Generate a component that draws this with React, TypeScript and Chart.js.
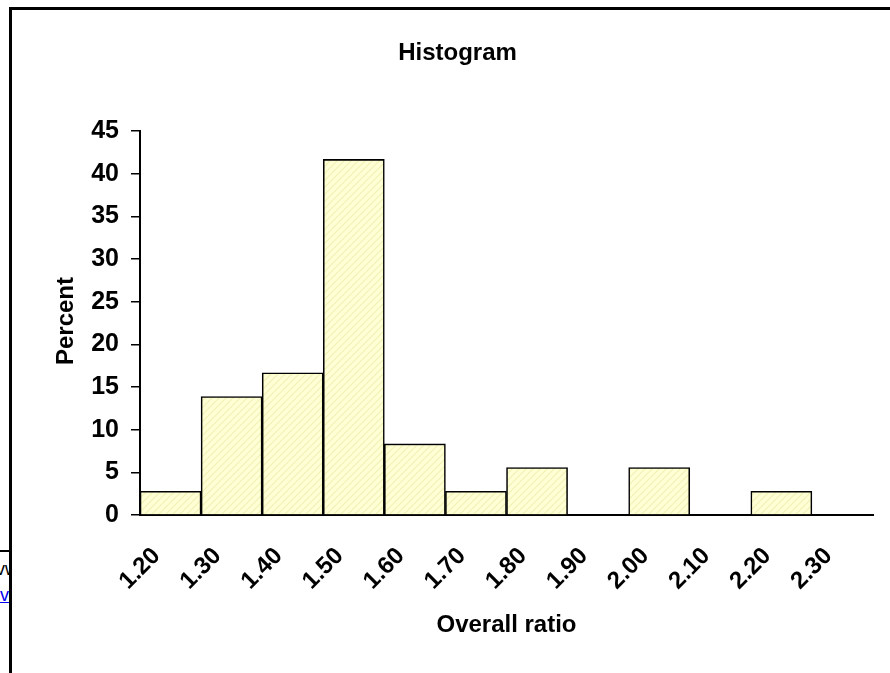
import React, { useEffect, useRef } from "react";
import { Chart, registerables } from "chart.js";

Chart.register(...registerables);

// Histogram bins (upper edge of each ratio class) and share of observations, in percent
const binLabels: string[] = ["1.20", "1.30", "1.40", "1.50", "1.60", "1.70", "1.80", "1.90", "2.00", "2.10", "2.20", "2.30"];
const percentValues: number[] = [2.78, 13.89, 16.67, 41.67, 8.33, 2.78, 5.56, 0, 5.56, 0, 2.78, 0];
const yTicks: number[] = [0, 5, 10, 15, 20, 25, 30, 35, 40, 45];

const chartTitle = "Histogram";
const xTitle = "Overall ratio";
const yTitle = "Percent";

const FONT = "'Liberation Sans', Arial, sans-serif";

function makeHatch(): CanvasPattern | string {
  const size = 7;
  const c = document.createElement("canvas");
  c.width = size;
  c.height = size;
  const g = c.getContext("2d");
  if (!g) return "#ffffcc";
  g.fillStyle = "#ffffd6";
  g.fillRect(0, 0, size, size);
  g.strokeStyle = "#f1f1b4";
  g.lineWidth = 1.2;
  g.beginPath();
  g.moveTo(-1, size + 1);
  g.lineTo(size + 1, -1);
  g.moveTo(-1, 1);
  g.lineTo(1, -1);
  g.moveTo(size - 1, size + 1);
  g.lineTo(size + 1, size - 1);
  g.stroke();
  const p = g.createPattern(c, "repeat");
  return p ?? "#ffffcc";
}

// Chart and axis titles, placed around the plot area
const titlesPlugin = {
  id: "histTitles",
  afterDraw(chart: any) {
    const { ctx, chartArea } = chart;
    ctx.save();
    ctx.fillStyle = "#000";
    ctx.font = `bold 24px ${FONT}`;
    ctx.textAlign = "center";
    ctx.textBaseline = "alphabetic";
    ctx.fillText(chartTitle, chart.width / 2, chartArea.top - 71);
    ctx.fillText(xTitle, (chartArea.left + chartArea.right) / 2, chartArea.bottom + 117);
    ctx.translate(chartArea.left - 67, (chartArea.top + chartArea.bottom) / 2 - 2);
    ctx.rotate(-Math.PI / 2);
    ctx.fillText(yTitle, 0, 0);
    ctx.restore();
  },
};

function HistogramChart() {
  const ref = useRef<HTMLCanvasElement | null>(null);

  useEffect(() => {
    if (!ref.current) return;
    const chart = new Chart(ref.current, {
      type: "bar",
      data: {
        labels: binLabels,
        datasets: [
          {
            data: percentValues,
            backgroundColor: makeHatch() as any,
            borderColor: "#000",
            borderWidth: 1.6,
            barPercentage: 1,
            categoryPercentage: 1,
          },
        ],
      },
      options: {
        animation: false,
        responsive: false,
        devicePixelRatio: 1,
        layout: { padding: { top: 121, right: 30, left: 0, bottom: 0 } },
        plugins: {
          legend: { display: false },
          tooltip: { enabled: false },
          title: { display: false },
        },
        scales: {
          x: {
            type: "category",
            grid: { display: false, drawTicks: false },
            border: { display: true, color: "#000", width: 2 },
            ticks: {
              color: "#000",
              font: { family: FONT, size: 24, weight: "bold" },
              maxRotation: 45,
              minRotation: 45,
              autoSkip: false,
              padding: 27,
              labelOffset: -14,
            },
            afterFit(scale: any) {
              scale.height = 158;
            },
          },
          y: {
            min: 0,
            max: 45,
            afterBuildTicks(scale: any) {
              scale.ticks = yTicks.map((v) => ({ value: v }));
            },
            grid: {
              display: true,
              drawOnChartArea: false,
              drawTicks: true,
              tickLength: 9,
              color: "#000",
              lineWidth: 1.5,
            },
            border: { display: true, color: "#000", width: 2 },
            ticks: {
              color: "#000",
              font: { family: FONT, size: 25, weight: "bold" },
              padding: 12,
            },
            afterFit(scale: any) {
              scale.width = 128;
            },
          },
        },
      },
      plugins: [titlesPlugin],
    });
    return () => chart.destroy();
  }, []);

  return <canvas ref={ref} width={891} height={663} style={{ display: "block", width: 891, height: 663 }} />;
}

export default function App() {
  return (
    <div style={{ position: "fixed", inset: 0, overflow: "hidden", background: "#fff" }}>
      <div style={{ position: "absolute", left: 0, top: 550, width: 12, borderTop: "2px solid #000" }} />
      <div
        style={{
          position: "absolute",
          left: -4,
          top: 556,
          font: `18px ${FONT}`,
          lineHeight: "26px",
          color: "#000",
        }}
      >
        <div>vw</div>
        <a href="#" style={{ color: "#0000ee", textDecoration: "underline" }}>
          iv
        </a>
      </div>
      <div
        style={{
          position: "absolute",
          left: 9,
          top: 7,
          width: 930,
          height: 700,
          borderTop: "3px solid #000",
          borderLeft: "3px solid #000",
          background: "#fff",
        }}
      >
        <HistogramChart />
      </div>
    </div>
  );
}
